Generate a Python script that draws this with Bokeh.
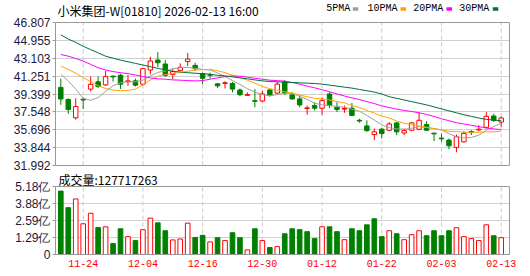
from bokeh.plotting import figure
from bokeh.layouts import column
from bokeh.models import (ColumnDataSource, Range1d, FixedTicker, Label, BoxAnnotation,
                          LinearAxis, Span)
from bokeh.embed import file_html
from bokeh.resources import INLINE

# ---------------- data ----------------
dates = ["11-19", "11-20", "11-21", "11-24", "11-25", "11-26", "11-27", "11-28", "12-01", "12-02",
         "12-03", "12-04", "12-05", "12-08", "12-09", "12-10", "12-11", "12-12", "12-15", "12-16",
         "12-17", "12-18", "12-19", "12-22", "12-23", "12-24", "12-29", "12-30", "12-31", "01-02",
         "01-05", "01-06", "01-07", "01-08", "01-09", "01-12", "01-13", "01-14", "01-15", "01-16",
         "01-19", "01-20", "01-21", "01-22", "01-23", "01-26", "01-27", "01-28", "01-29", "01-30",
         "02-02", "02-03", "02-04", "02-05", "02-06", "02-09", "02-10", "02-11", "02-12", "02-13"]
tick_dates = ["11-24", "12-04", "12-16", "12-30", "01-12", "01-22", "02-03", "02-13"]

open_ = [40.08, 38.82, 36.94, 38.85, 39.91, 40.66, 40.35, 41.24, 41.34, 40.69,
         40.76, 40.42, 41.89, 42.91, 42.50, 41.44, 41.85, 42.77, 42.36, 41.51,
         41.41, 40.45, 40.49, 40.49, 39.81, 39.26, 38.71, 38.68, 39.81, 39.50,
         40.66, 39.30, 38.89, 37.90, 38.20, 37.93, 39.40, 38.03, 37.83, 37.93,
         36.67, 36.09, 35.20, 35.75, 35.65, 36.40, 35.37, 35.65, 35.75, 36.23,
         35.34, 34.83, 34.62, 33.87, 34.45, 35.51, 35.68, 35.95, 37.11, 36.50]
high = [40.99, 38.95, 38.95, 39.06, 41.20, 41.20, 41.78, 41.34, 41.51, 41.37,
        40.99, 42.09, 43.25, 43.73, 42.91, 42.02, 42.57, 43.66, 42.64, 41.61,
        41.61, 40.52, 40.73, 40.66, 39.97, 39.57, 39.91, 39.74, 39.97, 40.66,
        40.86, 39.57, 39.23, 38.20, 38.54, 39.06, 39.57, 38.54, 38.20, 38.47,
        36.84, 36.67, 35.82, 35.88, 36.50, 36.50, 35.82, 36.50, 37.52, 36.57,
        35.37, 35.31, 34.79, 35.20, 35.55, 35.65, 36.16, 37.52, 37.35, 37.08]
low = [38.27, 37.35, 36.74, 37.86, 39.67, 40.01, 40.25, 40.69, 39.91, 40.25,
       40.18, 40.25, 41.44, 42.19, 41.17, 40.93, 41.85, 42.30, 41.78, 40.42,
       40.99, 40.01, 39.97, 39.57, 39.16, 39.26, 38.03, 38.54, 39.16, 39.40,
       39.30, 38.82, 38.03, 37.25, 37.69, 37.25, 37.93, 37.52, 37.45, 37.11,
       36.43, 35.48, 34.62, 34.79, 35.55, 35.14, 35.14, 35.55, 35.65, 35.58,
       34.52, 34.45, 33.70, 33.36, 34.38, 35.14, 35.55, 35.82, 36.50, 35.99]
close = [38.89, 37.80, 38.10, 38.78, 40.39, 40.18, 41.20, 41.17, 40.42, 40.76,
         40.32, 42.02, 42.81, 42.64, 41.34, 41.72, 42.16, 43.01, 42.02, 41.03,
         41.34, 40.25, 40.56, 39.91, 39.33, 39.33, 38.65, 39.40, 39.30, 40.42,
         39.57, 38.89, 38.27, 37.96, 37.93, 38.71, 38.20, 37.80, 37.90, 37.18,
         36.60, 35.61, 35.48, 35.31, 36.29, 35.48, 35.61, 36.40, 36.67, 35.65,
         35.27, 34.76, 34.04, 34.96, 35.31, 35.44, 35.75, 37.08, 36.67, 36.91]

ma5 = [41.44, 40.76, 39.91, 38.95, 38.75, 39.02, 39.67, 40.25, 40.56, 40.66,
       40.66, 40.83, 41.27, 41.65, 41.78, 42.02, 42.12, 42.16, 42.06, 41.95,
       41.89, 41.58, 41.20, 40.79, 40.39, 39.94, 39.60, 39.33, 39.19, 39.36,
       39.47, 39.47, 39.16, 38.85, 38.44, 38.27, 38.20, 38.10, 38.03, 37.83,
       37.62, 37.18, 36.70, 36.19, 35.92, 35.78, 35.75, 35.85, 36.02, 35.92,
       35.82, 35.68, 35.30, 34.96, 34.86, 34.90, 35.13, 35.65, 36.02, 36.36]
ma10 = [42.30, 41.95, 41.55, 41.10, 40.66, 40.25, 39.98, 39.81, 39.74, 39.77,
        39.91, 40.35, 40.86, 41.24, 41.41, 41.55, 41.61, 41.75, 41.89, 41.92,
        41.95, 41.82, 41.61, 41.34, 41.10, 40.83, 40.52, 40.18, 39.94, 39.81,
        39.64, 39.50, 39.29, 39.12, 38.95, 38.89, 38.78, 38.61, 38.48, 38.20,
        38.00, 37.69, 37.42, 37.11, 36.91, 36.60, 36.36, 36.23, 36.09, 35.95,
        35.82, 35.68, 35.54, 35.51, 35.44, 35.44, 35.44, 35.48, 35.48, 35.54]
ma20 = [43.49, 43.32, 43.08, 42.81, 42.47, 42.12, 41.89, 41.72, 41.61, 41.51,
        41.37, 41.20, 41.07, 40.97, 40.93, 40.86, 40.83, 40.79, 40.76, 40.79,
        40.93, 41.07, 41.20, 41.27, 41.24, 41.14, 41.03, 40.93, 40.83, 40.79,
        40.73, 40.59, 40.42, 40.22, 40.04, 39.84, 39.64, 39.40, 39.19, 38.99,
        38.82, 38.61, 38.41, 38.17, 38.00, 37.83, 37.69, 37.59, 37.45, 37.28,
        37.08, 36.84, 36.63, 36.43, 36.29, 36.16, 36.02, 35.88, 35.78, 35.71]
ma30 = [45.53, 45.09, 44.75, 44.34, 44.00, 43.66, 43.32, 43.11, 42.91, 42.74,
        42.57, 42.40, 42.23, 42.06, 41.89, 41.75, 41.68, 41.61, 41.55, 41.51,
        41.44, 41.34, 41.27, 41.17, 41.07, 40.97, 40.86, 40.76, 40.69, 40.66,
        40.62, 40.59, 40.56, 40.52, 40.49, 40.42, 40.32, 40.22, 40.11, 40.01,
        39.87, 39.74, 39.60, 39.40, 39.12, 38.95, 38.78, 38.61, 38.44, 38.27,
        38.07, 37.86, 37.66, 37.45, 37.25, 37.08, 36.91, 36.77, 36.70, 36.63]

volume_yi = [4.83, 3.57, 4.23, 2.34, 3.14, 2.06, 2.11, 0.83, 1.96, 1.36,
             1.06, 1.89, 2.77, 2.41, 1.81, 1.11, 1.18, 2.39, 1.30, 1.46,
             0.96, 1.28, 1.06, 1.66, 1.28, 0.35, 1.96, 1.06, 0.53, 0.60,
             1.58, 1.96, 1.89, 1.74, 1.21, 2.11, 2.11, 1.74, 1.13, 1.96,
             1.81, 2.26, 2.72, 1.36, 1.81, 1.58, 1.13, 1.51, 1.81, 1.43,
             1.81, 1.43, 1.81, 2.04, 1.36, 1.21, 1.06, 2.26, 1.43, 1.28]

price_ticks = [31.992, 33.844, 35.696, 37.548, 39.399, 41.251, 43.103, 44.955, 46.807]
price_labels = ["31.992", "33.844", "35.696", "37.548", "39.399", "41.251", "43.103", "44.955", "46.807"]
vol_ticks = [0, 1.295, 2.59, 3.885, 5.18]
vol_labels = ["0", "1.29亿", "2.59亿", "3.88亿", "5.18亿"]

title_text = "小米集团-W[01810] 2026-02-13 16:00"
vol_text = "成交量:127717263"
ma_names = ["5PMA", "10PMA", "20PMA", "30PMA"]

# ---------------- styles / layout constants (pixels) ----------------
UP = "#ff0000"
DOWN = "#008000"
MA_COLORS = ["#a0a0a0", "#ffa500", "#ff00ff", "#00703c"]
GRID = "#d0d0d0"
VGRID = "#c8c8c8"
FRAME = "#999999"
AXIS_TXT = "#1a1a3a"

W = 530
LEFT, RIGHT = 55, 21
H1 = 172            # price canvas height (frame covers the whole canvas height)
PRICE_TOP_PX, PRICE_BOT_PX = 22, 165
H2 = 276 - H1       # volume canvas height
V_BOTTOM_BORDER = 22
VOL_TOP_PX = 186    # page y of the volume max tick
VOL_BASE_PX = 254   # page y of volume zero

n = len(dates)
xs = list(range(n))
up = [c >= o for o, c in zip(open_, close)]
prev_close = [open_[0]] + close[:-1]
vol_up = [c >= pc for c, pc in zip(close, prev_close)]

src = ColumnDataSource(dict(
    x=xs, high=high, low=low,
    top=[max(o, c) + 0.004 for o, c in zip(open_, close)],
    bottom=[min(o, c) - 0.004 for o, c in zip(open_, close)],
    color=[UP if u else DOWN for u in up],
    fill=["#ffffff" if u else DOWN for u in up],
))
vsrc = ColumnDataSource(dict(
    x=xs, vol=volume_yi,
    color=[UP if u else DOWN for u in vol_up],
    fill=["#ffffff" if u else DOWN for u in vol_up],
))

tick_idx = [dates.index(d) for d in tick_dates]
x0, x1 = -0.71, n + 0.11
xr = Range1d(x0, x1)
px_per_bar = (W - LEFT - RIGHT) / (x1 - x0)


def xdata(px):
    return x0 + (px - LEFT) / px_per_bar


p_lo, p_hi = price_ticks[0], price_ticks[-1]
ppu = (PRICE_BOT_PX - PRICE_TOP_PX) / (p_hi - p_lo)
y1r = Range1d(p_lo - (H1 - PRICE_BOT_PX) / ppu, p_hi + PRICE_TOP_PX / ppu)


def pdata(py):
    return p_hi + (PRICE_TOP_PX - py) / ppu


v_lo, v_hi = vol_ticks[0], vol_ticks[-1]
vframe_h = H2 - V_BOTTOM_BORDER
vpu = (VOL_BASE_PX - VOL_TOP_PX) / (v_hi - v_lo)
y2r = Range1d(v_lo, v_lo + vframe_h / vpu)


def vdata(py):
    return (VOL_BASE_PX - py) / vpu


def style_left_axis(ax, ticks, labels, bounds):
    ax.ticker = FixedTicker(ticks=ticks)
    ax.major_label_overrides = dict(zip(ticks, labels))
    ax.bounds = bounds
    ax.major_label_text_font = "Liberation Sans"
    ax.major_label_text_font_size = "12px"
    ax.major_label_text_color = AXIS_TXT
    ax.axis_line_color = FRAME
    ax.major_tick_line_color = FRAME
    ax.major_tick_out = 3
    ax.major_tick_in = 0
    ax.minor_tick_line_color = None
    ax.major_label_standoff = 2


def add_right_edge(p, bounds):
    ax = LinearAxis(bounds=bounds, ticker=FixedTicker(ticks=[]), axis_line_color=FRAME,
                    major_tick_line_color=None, minor_tick_line_color=None,
                    major_label_text_font_size="0px")
    p.add_layout(ax, "right")


# ---------------- price panel ----------------
p1 = figure(width=W, height=H1, x_range=xr, y_range=y1r,
            output_backend="svg", toolbar_location=None,
            min_border_left=LEFT, min_border_right=RIGHT, min_border_top=0, min_border_bottom=0)
p1.outline_line_color = None
p1.xaxis.visible = False
p1.xgrid.visible = False
p1.ygrid.ticker = FixedTicker(ticks=price_ticks)
p1.ygrid.grid_line_color = GRID
style_left_axis(p1.yaxis[0], price_ticks, price_labels, (p_lo, p_hi))
add_right_edge(p1, (p_lo, p_hi))
p1.segment(x0=tick_idx, y0=[p_lo] * len(tick_idx), x1=tick_idx, y1=[p_hi] * len(tick_idx),
           line_color=VGRID, line_dash="4 3", line_width=1, level="underlay")
p1.add_layout(Span(location=p_hi, dimension="width", line_color=FRAME, line_width=1))
p1.add_layout(Span(location=p_lo, dimension="width", line_color=FRAME, line_width=1))

p1.segment(x0="x", y0="low", x1="x", y1="high", line_color="color", line_width=1, source=src)
p1.vbar(x="x", width=0.6, top="top", bottom="bottom", fill_color="fill",
        line_color="color", line_width=1, source=src)
for ma, col in zip([ma5, ma10, ma20, ma30], MA_COLORS):
    p1.line(xs, ma, line_color=col, line_width=1)

p1.add_layout(Label(x=xdata(57), y=pdata(9.5), text=title_text,
                    text_font="Noto Sans CJK SC", text_font_size="12px",
                    text_color="#000000", text_baseline="middle"))
legend_px = [325.7, 367.0, 412.7, 458.7]
box_px = [352.3, 400.0, 446.0, 492.3]
for name, col, lx, bx in zip(ma_names, MA_COLORS, legend_px, box_px):
    p1.add_layout(Label(x=xdata(lx), y=pdata(8.4), text=name,
                        text_font="Liberation Mono", text_font_size="10px",
                        text_color="#000000", text_baseline="middle"))
    p1.add_layout(BoxAnnotation(left=xdata(bx), right=xdata(bx + 5.5),
                                top=pdata(6.7), bottom=pdata(10.2),
                                fill_color=col, fill_alpha=1, line_color=None))

# ---------------- volume panel ----------------
p2 = figure(width=W, height=H2, x_range=xr, y_range=y2r,
            output_backend="svg", toolbar_location=None,
            min_border_left=LEFT, min_border_right=RIGHT, min_border_top=0,
            min_border_bottom=V_BOTTOM_BORDER)
p2.outline_line_color = None
p2.xgrid.visible = False
p2.ygrid.ticker = FixedTicker(ticks=vol_ticks)
p2.ygrid.grid_line_color = GRID

xa = p2.xaxis[0]
xa.ticker = FixedTicker(ticks=tick_idx)
xa.major_label_overrides = {i: dates[i] for i in tick_idx}
xa.major_label_text_font = "Liberation Mono"
xa.major_label_text_font_size = "10px"
xa.major_label_text_color = "#ff0000"
xa.axis_line_color = FRAME
xa.major_tick_line_color = None
xa.minor_tick_line_color = None
xa.major_tick_out = 0
xa.major_tick_in = 0
xa.major_label_standoff = 5

style_left_axis(p2.yaxis[0], vol_ticks, vol_labels, (v_lo, v_hi))
add_right_edge(p2, (v_lo, v_hi))
p2.segment(x0=tick_idx, y0=[v_lo] * len(tick_idx), x1=tick_idx, y1=[v_hi] * len(tick_idx),
           line_color=VGRID, line_dash="4 3", line_width=1, level="underlay")
p2.add_layout(Span(location=v_hi, dimension="width", line_color=FRAME, line_width=1))

p2.vbar(x="x", width=0.62, top="vol", bottom=0, fill_color="fill",
        line_color="color", line_width=1, source=vsrc)
p2.add_layout(Label(x=xdata(58), y=vdata(178.5), text=vol_text,
                    text_font="Noto Sans CJK SC", text_font_size="12px",
                    text_color="#000000", text_baseline="middle"))

layout = column(p1, p2, spacing=0)
open("out.html", "w").write(file_html(layout, INLINE))
